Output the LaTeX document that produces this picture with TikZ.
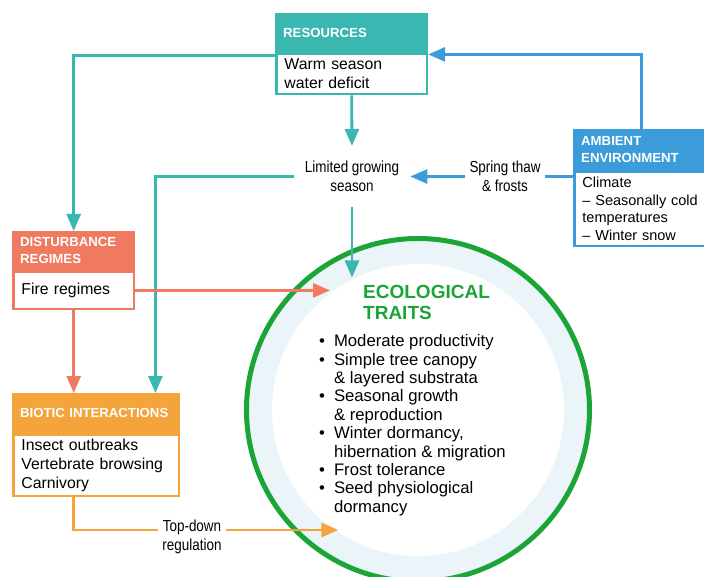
\documentclass[tikz,border=0pt]{standalone}
\usepackage{fontspec}
\setmainfont{Liberation Sans}
\newfontfamily\condfont[FakeStretch=0.84]{Liberation Sans}
\usetikzlibrary{arrows.meta}

\definecolor{resteal}{HTML}{3AB7B0}
\definecolor{ambblue}{HTML}{3B9CD9}
\definecolor{distcoral}{HTML}{EF7A60}
\definecolor{bioorange}{HTML}{F5A33B}
\definecolor{traitgreen}{HTML}{1CA537}
\definecolor{ringblue}{HTML}{EBF5F9}

\tikzset{
  headbox/.style={anchor=north west, fill=#1, text=white, align=left, inner xsep=8pt, inner ysep=0pt,
    font=\bfseries\fontsize{13.2}{16.5}\selectfont},
  bodybox/.style={anchor=north, draw=#1, line width=2.5pt, fill=white, align=left, inner xsep=8pt, inner ysep=0pt,
    font=\fontsize{15.8}{19}\selectfont},
  lbl/.style={font=\condfont\fontsize{16}{19}\selectfont, align=center, inner xsep=4pt},
  wire/.style={draw=#1, line width=2.8pt},
  link/.style={draw=#1, line width=2.8pt, -{Triangle[length=17pt,width=14pt]}},
}

\begin{document}
\begin{tikzpicture}[x=1pt, y=-1pt]
    \clip (0,0) rectangle (704,577);

    % Ecological traits ring
    \node[circle, draw=traitgreen, line width=5pt, fill=ringblue, minimum size=343pt, inner sep=0pt] (ring) at (418,410) {};
    \node[circle, fill=white, minimum size=292pt, inner sep=0pt] (eco) at (ring.center) {};
    \node[anchor=north west, inner sep=0pt, align=left, text=traitgreen,
        font=\bfseries\fontsize{19}{21.6}\selectfont] (ecoTitle) at (363,284.6) {ECOLOGICAL\\TRAITS};
    \node[anchor=north west, inner sep=0pt, font=\fontsize{16.7}{18.4}\selectfont] (ecoList) at (319,333.6) {%
        \begin{tabular}{@{}l@{\hspace{9pt}}l@{}}
            \textbullet & Moderate productivity\\
            \textbullet & Simple tree canopy\\
                        & \& layered substrata\\
            \textbullet & Seasonal growth\\
                        & \& reproduction\\
            \textbullet & Winter dormancy,\\
                        & hibernation \& migration\\
            \textbullet & Frost tolerance\\
            \textbullet & Seed physiological\\
                        & dormancy
        \end{tabular}};

    % Driver boxes
    \node[headbox=resteal, text width=137pt, minimum height=39pt] (resHead) at (275,13) {RESOURCES};
    \node[bodybox=resteal, text width=134.5pt, minimum height=40.5pt] (res) at (resHead.south) {Warm season\\water deficit};

    \node[headbox=ambblue, text width=140pt, minimum height=41pt] (ambHead) at (573,129) {AMBIENT\\ENVIRONMENT};
    \node[bodybox=ambblue, text width=137.5pt, minimum height=74.5pt, font=\fontsize{14.5}{17.8}\selectfont] (amb) at (ambHead.south)
        {Climate\\– Seasonally cold\\temperatures\\– Winter snow};

    \node[headbox=distcoral, text width=107pt, minimum height=39pt] (distHead) at (12,231) {DISTURBANCE\\REGIMES};
    \node[bodybox=distcoral, text width=104.5pt, minimum height=37.5pt] (dist) at (distHead.south) {Fire regimes};

    \node[headbox=bioorange, text width=152pt, minimum height=40pt] (bioHead) at (12,393) {BIOTIC INTERACTIONS};
    \node[bodybox=bioorange, text width=149.5pt, minimum height=61.5pt] (bio) at (bioHead.south)
        {Insect outbreaks\\Vertebrate browsing\\Carnivory};

    % Connector labels
    \node[lbl, inner xsep=11pt, inner ysep=15pt] (season) at (352,176.5) {Limited growing\\season};
    \node[lbl] (thaw) at (505,176.5) {Spring thaw\\\& frosts};
    \node[lbl] (topdown) at (192,536.5) {Top-down\\regulation};

    % Connectors
    \draw[link=resteal] (res.south) -- (season.north);
    \draw[link=resteal] ([yshift=-3pt]res.north west) -| (distHead.north);
    \draw[link=resteal] (season.west) -| ([xshift=-25pt]bioHead.north east);
    \draw[link=resteal] (season.south) -- (season.south |- eco.115);

    \draw[link=ambblue] ([xshift=-10pt]ambHead.north) |- ([yshift=-2pt]res.north east);
    \draw[wire=ambblue] (amb.west |- thaw.east) -- (thaw.east);
    \draw[link=ambblue] (thaw.west) -- (season.east);

    \draw[link=distcoral] (dist.east) -- (dist.east -| eco.127);
    \draw[link=distcoral] (dist.south) -- (dist.south |- bioHead.north);

    \draw[wire=bioorange] (bio.south -| dist.south) |- ([yshift=6.5pt]topdown.west);
    \draw[link=bioorange] ([yshift=6.5pt]topdown.east) -- ([yshift=6.5pt]topdown.east -| eco.237);

\end{tikzpicture}
\end{document}
